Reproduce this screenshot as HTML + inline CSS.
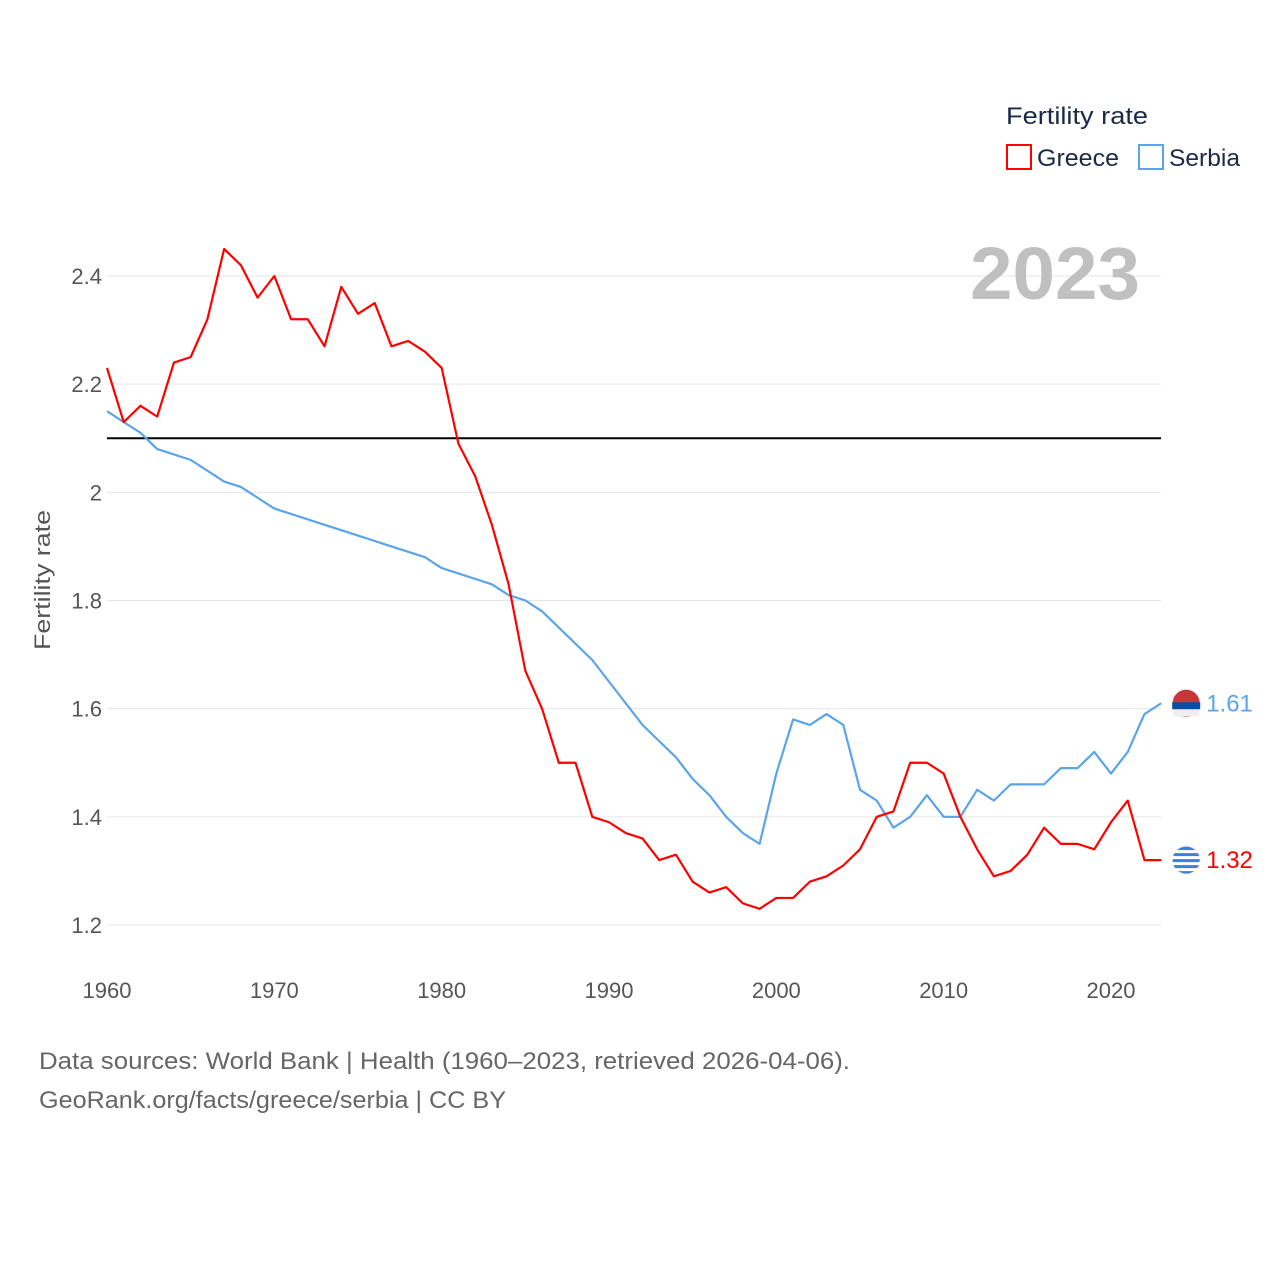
<!DOCTYPE html>
<html><head><meta charset="utf-8"><style>
html,body{margin:0;padding:0;background:#fff;}
body{width:1280px;height:1280px;overflow:hidden;font-family:"Liberation Sans",sans-serif;}
</style></head><body>
<svg id="chart" width="1280" height="1280" xmlns="http://www.w3.org/2000/svg" font-family="Liberation Sans, sans-serif">
<g id="grid"></g>
<g id="yticks"></g>
<g id="xticks"></g>
<text transform="translate(50,580) rotate(-90)" text-anchor="middle" font-size="22" fill="#555" textLength="140" lengthAdjust="spacingAndGlyphs">Fertility rate</text>
<text x="1140" y="299" text-anchor="end" font-size="74" font-weight="bold" fill="#c0c0c0" textLength="170" lengthAdjust="spacingAndGlyphs">2023</text>
<line id="refline" x1="107" x2="1161" stroke="#000" stroke-width="2"/>
<g id="series"></g>
<g>
<text x="1006" y="124" font-size="24" fill="#1a2a44" textLength="142" lengthAdjust="spacingAndGlyphs">Fertility rate</text>
<rect x="1007" y="145" width="24" height="24" fill="none" stroke="#ff0000" stroke-width="2"/>
<text x="1037" y="166" font-size="24" fill="#1a2a44" textLength="82" lengthAdjust="spacingAndGlyphs">Greece</text>
<rect x="1139" y="145" width="24" height="24" fill="none" stroke="#5aa5ea" stroke-width="2"/>
<text x="1169" y="166" font-size="24" fill="#1a2a44" textLength="71" lengthAdjust="spacingAndGlyphs">Serbia</text>
</g>
<text x="39" y="1069" font-size="24" fill="#666" textLength="811" lengthAdjust="spacingAndGlyphs">Data sources: World Bank | Health (1960–2023, retrieved 2026-04-06).</text>
<text x="39" y="1108" font-size="24" fill="#666" textLength="467" lengthAdjust="spacingAndGlyphs">GeoRank.org/facts/greece/serbia | CC BY</text>
</svg>
<script>
const years = Array.from({length:64},(_,i)=>1960+i);
const greece = [2.23,2.13,2.16,2.14,2.24,2.25,2.32,2.45,2.42,2.36,2.40,2.32,2.32,2.27,2.38,2.33,2.35,2.27,2.28,2.26,2.23,2.09,2.03,1.94,1.83,1.67,1.60,1.50,1.50,1.40,1.39,1.37,1.36,1.32,1.33,1.28,1.26,1.27,1.24,1.23,1.25,1.25,1.28,1.29,1.31,1.34,1.40,1.41,1.50,1.50,1.48,1.40,1.34,1.29,1.30,1.33,1.38,1.35,1.35,1.34,1.39,1.43,1.32,1.32];
const serbia = [2.15,2.13,2.11,2.08,2.07,2.06,2.04,2.02,2.01,1.99,1.97,1.96,1.95,1.94,1.93,1.92,1.91,1.90,1.89,1.88,1.86,1.85,1.84,1.83,1.81,1.80,1.78,1.75,1.72,1.69,1.65,1.61,1.57,1.54,1.51,1.47,1.44,1.40,1.37,1.35,1.48,1.58,1.57,1.59,1.57,1.45,1.43,1.38,1.40,1.44,1.40,1.40,1.45,1.43,1.46,1.46,1.46,1.49,1.49,1.52,1.48,1.52,1.59,1.61];
const yTicks = [1.2,1.4,1.6,1.8,2,2.2,2.4];
const xTicks = [1960,1970,1980,1990,2000,2010,2020];
const refValue = 2.1;
const NS="http://www.w3.org/2000/svg";
const X = y => 107 + (y-1960)*(1111-107)/60;
const Y = v => 925 - (v-1.2)*(925-276)/1.2;
function mk(t,a,p){const e=document.createElementNS(NS,t);for(const k in a)e.setAttribute(k,a[k]);p.appendChild(e);return e;}
const grid=document.getElementById('grid'), yt=document.getElementById('yticks'), xt=document.getElementById('xticks');
yTicks.forEach(v=>{
  const l=mk('line',{x1:107,x2:1161,y1:Y(v),y2:Y(v),stroke:'#e6e6e6','stroke-width':1},grid);
  
  
  const t=mk('text',{x:102,y:Y(v)+8,'text-anchor':'end','font-size':22,fill:'#555'},yt);
  t.textContent=String(v);
  
  
});
xTicks.forEach(y=>{
  const t=mk('text',{x:X(y),y:998,'text-anchor':'middle','font-size':22,fill:'#555'},xt);
  t.textContent=String(y);
  
  
});
const rl=document.getElementById('refline');rl.setAttribute('y1',Y(refValue));rl.setAttribute('y2',Y(refValue));
const sg=document.getElementById('series');
function series(vals,color,name){
  const p=mk('polyline',{points:vals.map((v,i)=>X(years[i])+','+Y(v)).join(' '),fill:'none',stroke:color,'stroke-width':2.2,'stroke-linejoin':'round'},sg);
  
  
  const last=vals[vals.length-1], lx=X(years[years.length-1]), ly=Y(last);
  const c=mk('circle',{cx:lx+25,cy:ly,r:14,fill:name==='greece'?'#3d7fe0':'#c6363c',stroke:'#eee','stroke-width':1},sg);
  
  
  if(name==='greece'){for(let k=0;k<4;k++){const s=mk('rect',{x:lx+11,y:ly-10+k*6,width:28,height:3,fill:'#fff'},sg);}}
  else{const s=mk('rect',{x:lx+11,y:ly-1,width:28,height:7,fill:'#0c4da2'},sg);
       const s2=mk('rect',{x:lx+12,y:ly+6,width:26,height:7,fill:'#eee'},sg);}
  const t=mk('text',{x:lx+45,y:ly+8,'font-size':24,fill:color},sg);
  t.textContent=last.toFixed(2);
  
  
}
series(serbia,'#5aa5ea','serbia');
series(greece,'#ff0000','greece');
</script>
</body></html>
